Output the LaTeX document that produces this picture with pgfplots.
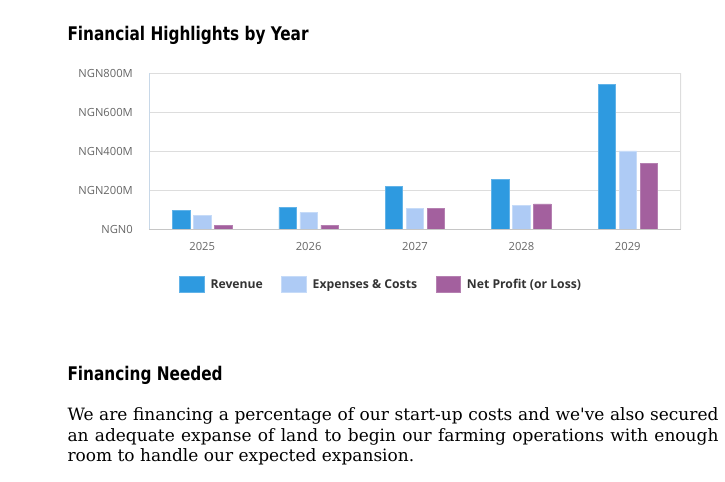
\documentclass[border=0pt]{standalone}
\usepackage{fontspec}
\usepackage{pgfplots}
\pgfplotsset{compat=1.18}
\setmainfont{Open Sans}
\newfontfamily\headfont[FakeStretch=0.905]{DejaVu Sans Condensed}
\newfontfamily\bodyfont{DejaVu Serif}

\definecolor{revblue}{HTML}{2E9AE0}
\definecolor{expblue}{HTML}{AECBF5}
\definecolor{netpurple}{HTML}{A3609E}
\definecolor{gridgray}{HTML}{DDDDDD}
\definecolor{leftline}{HTML}{C8D8E8}
\definecolor{ticktext}{HTML}{666666}
\definecolor{legtext}{HTML}{333333}

\begin{document}
\begin{tikzpicture}
\path[use as bounding box] (0,0) rectangle (725bp,482bp);

% headings and text
\node[anchor=base west, inner sep=0] at (67.3bp,441bp)
  {\headfont\fontsize{18.8bp}{22bp}\selectfont\bfseries Financial Highlights by Year};
\node[anchor=base west, inner sep=0] at (67.3bp,101.3bp)
  {\headfont\fontsize{18.8bp}{22bp}\selectfont\bfseries Financing Needed};
\node[anchor=base west, inner sep=0] at (67.3bp,61.3bp)
  {\bodyfont\fontsize{17bp}{20.5bp}\selectfont\makebox[651bp][s]{We are financing a percentage of our start-up costs and we've also secured}};
\node[anchor=base west, inner sep=0] at (67.3bp,40.8bp)
  {\bodyfont\fontsize{17bp}{20.5bp}\selectfont\makebox[651bp][s]{an adequate expanse of land to begin our farming operations with enough}};
\node[anchor=base west, inner sep=0] at (67.3bp,20.3bp)
  {\bodyfont\fontsize{17bp}{20.5bp}\selectfont room to handle our expected expansion.};

\begin{axis}[
    at={(149bp,252.7bp)}, anchor=south west,
    scale only axis, width=532bp, height=156bp,
    ybar=3.5bp, bar width=17.5bp,
    xmin=-0.5, xmax=4.5, ymin=0, ymax=800,
    xtick={0,1,2,3,4},
    xticklabels={2025,2026,2027,2028,2029},
    ytick={0,200,400,600,800},
    yticklabels={NGN0,NGN200M,NGN400M,NGN600M,NGN800M},
    tick style={draw=none},
    ymajorgrids=true,
    grid style={draw=gridgray, line width=0.9bp},
    axis line style={draw=none},
    ticklabel style={font=\fontsize{11.2bp}{13bp}\selectfont, text=ticktext},
    yticklabel style={anchor=east, inner sep=0, xshift=-16bp},
    xticklabel style={anchor=base, inner sep=0, yshift=-16.5bp},
    legend columns=3,
    legend style={draw=none, fill=none, at={(0.0564,-0.354)}, anchor=west,
        inner sep=0,
        nodes={inner sep=0, anchor=west, text=legtext,
               font=\fontsize{12.2bp}{14bp}\selectfont\bfseries},
        /tikz/every odd column/.append style={column sep=6bp},
        /tikz/every even column/.append style={column sep=18.5bp}},
    legend image code/.code={\fill[#1] (0bp,-7.8bp) rectangle (24.7bp,7.8bp);},
]
\addplot[fill=revblue, draw=revblue!75!white, line width=0.6bp]
  coordinates {(0,97) (1,113) (2,221) (3,257) (4,744)};
\addlegendentry{Revenue}
\addplot[fill=expblue, draw=expblue!70!white, line width=0.6bp]
  coordinates {(0,72) (1,87) (2,106) (3,123) (4,402)};
\addlegendentry{Expenses \& Costs}
\addplot[fill=netpurple, draw=netpurple!80!white, line width=0.6bp]
  coordinates {(0,22) (1,22) (2,108) (3,130) (4,337)};
\addlegendentry{Net Profit (or Loss)}

% plot frame
\draw[gridgray, line width=1.2bp] (rel axis cs:0,1) -- (rel axis cs:1,1) -- (rel axis cs:1,0);
\draw[gray!45, line width=1.4bp] (rel axis cs:0,0) -- (rel axis cs:1,0);
\draw[leftline, line width=1.4bp] (rel axis cs:0,0) -- (rel axis cs:0,1);
\end{axis}
\end{tikzpicture}
\end{document}
